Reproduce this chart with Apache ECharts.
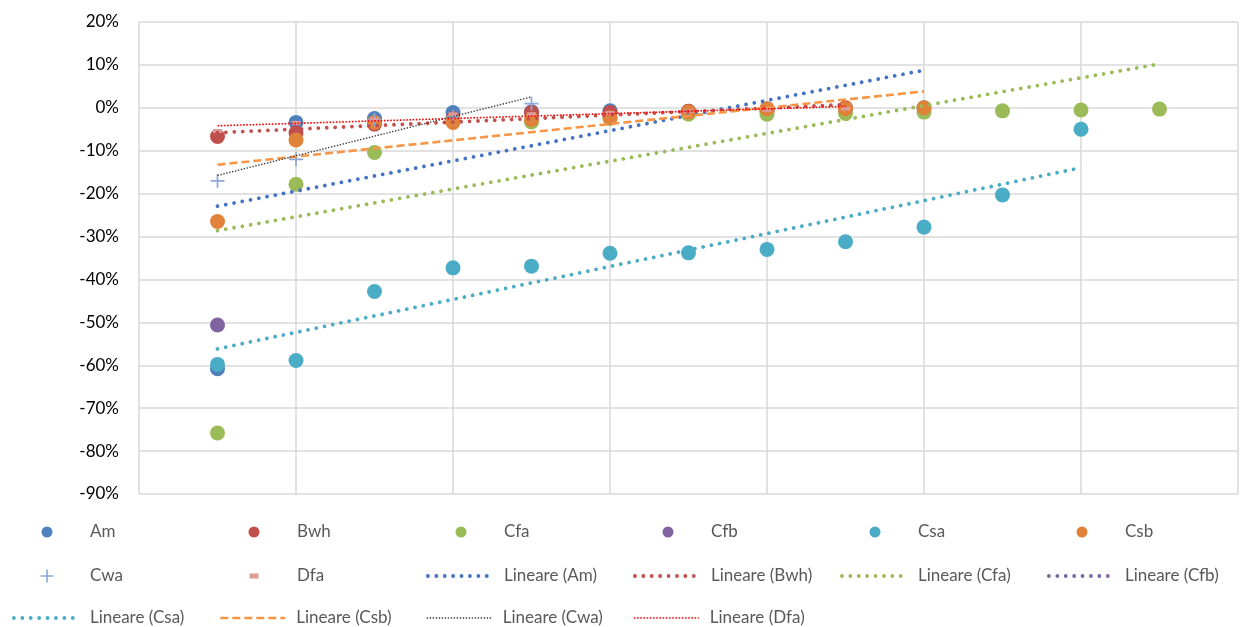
<!DOCTYPE html>
<html><head><meta charset="utf-8">
<script src="https://cdn.jsdelivr.net/npm/echarts@6/dist/echarts.min.js"></script>
<style>html,body{margin:0;padding:0;background:#fff}#c{width:1241px;height:627px}</style>
</head><body><div id="c"></div>
<script>
// ---- data (x = position 1..13, values are fractions) ----
const xs = [1, 2, 3, 4, 5, 6, 7, 8, 9, 10, 11, 12, 13];
const amVals  = [-0.608, -0.034, -0.025, -0.011, -0.009, -0.007, -0.008, -0.003, -0.003, 0.000];
const bwhVals = [-0.067, -0.058, -0.038, -0.025, -0.011, -0.011, -0.008, -0.008, 0.000];
const cfaVals = [-0.758, -0.178, -0.104, -0.030, -0.033, -0.025, -0.015, -0.015, -0.013, -0.010, -0.007, -0.005, -0.003];
const cfbVals = [-0.506];
const csaVals = [-0.598, -0.589, -0.428, -0.373, -0.369, -0.339, -0.338, -0.330, -0.312, -0.278, -0.203, -0.050];
const csbVals = [-0.265, -0.075, -0.034, -0.034, -0.027, -0.023, -0.010, -0.002, -0.002, 0.000];
const cwaVals = [-0.170, -0.120, -0.028, -0.022, 0.010];
const dfaVals = [-0.054, -0.035, -0.027, -0.015, -0.015, -0.012, -0.008, -0.005, -0.002];
const seriesNames = ['Am', 'Bwh', 'Cfa', 'Cfb', 'Csa', 'Csb', 'Cwa', 'Dfa'];
const trendPrefix = 'Lineare';
const yMin = -0.9, yMax = 0.2, yStep = 0.1;
const xMin = 0, xMax = 14, xStep = 2;

// ---- styling ----
const valsByName = {Am: amVals, Bwh: bwhVals, Cfa: cfaVals, Cfb: cfbVals, Csa: csaVals, Csb: csbVals, Cwa: cwaVals, Dfa: dfaVals};
const markerColor = {Am:'#4F81BD', Bwh:'#C0504D', Cfa:'#9BBB59', Cfb:'#8064A2', Csa:'#4BACC6', Csb:'#E0823A', Cwa:'#8EA9D8', Dfa:'#DC9A98'};
const plusPath = 'path://M7,0H9V7H16V9H9V16H7V9H0V7H7Z';
const markerSymbol = {Cwa: plusPath, Dfa: 'rect'};
const markerSize = {Cwa: 14, Dfa: [9, 4]};
const dots = (c) => ({color: c, width: 3.8, type: [0.01, 8.4], cap: 'round'});
const trendStyle = {
  Am: dots('#4472C4'), Bwh: dots('#C0504D'), Cfa: dots('#9BBB59'), Cfb: dots('#8064A2'), Csa: dots('#4BACC6'),
  Csb: {color: '#F79646', width: 2.6, type: [8, 4], cap: 'butt'},
  Cwa: {color: '#404040', width: 1.4, type: [1.4, 1.6], cap: 'butt'},
  Dfa: {color: '#FF0000', width: 1.6, type: [1.6, 1.6], cap: 'butt'}
};

function toPts(vals) { return vals.map((v, i) => [xs[i], v]); }
function trend(vals) {
  const p = toPts(vals); const n = p.length;
  if (n < 2) return [];
  let sx = 0, sy = 0; p.forEach(d => { sx += d[0]; sy += d[1]; });
  const mx = sx / n, my = sy / n;
  let sxy = 0, sxx = 0; p.forEach(d => { sxy += (d[0]-mx)*(d[1]-my); sxx += (d[0]-mx)*(d[0]-mx); });
  const b = sxy / sxx, a = my - b * mx;
  const x0 = p[0][0], x1 = p[n-1][0];
  return [[x0, a + b*x0], [x1, a + b*x1]];
}

const series = [];
seriesNames.forEach((nm, i) => {
  series.push({
    name: nm, type: 'scatter', data: toPts(valsByName[nm]),
    symbol: markerSymbol[nm] || 'circle', symbolSize: markerSize[nm] || 15,
    itemStyle: {color: markerColor[nm], opacity: 1}, z: 2 + i * 0.01, silent: true
  });
});
seriesNames.forEach((nm, i) => {
  series.push({
    name: trendPrefix + ' (' + nm + ')', type: 'line', data: trend(valsByName[nm]),
    symbol: 'none', showSymbol: false, lineStyle: trendStyle[nm],
    itemStyle: {color: trendStyle[nm].color}, z: 4, silent: true, animation: false
  });
});

// ---- legend: one component per item on a 6-column grid ----
const legendNames = seriesNames.concat(seriesNames.map(nm => trendPrefix + ' (' + nm + ')'));
const colStart = [10, 217, 424, 631, 838, 1045];
const rowCenter = [532, 576, 618];
const legends = legendNames.map((nm, i) => {
  const row = Math.floor(i / 6), col = i % 6;
  const isMarker = i < seriesNames.length;
  let w = 65, h = 14, left = colStart[col] + 2, pad = 6;
  if (isMarker) {
    const base = seriesNames[i];
    if (base === 'Dfa') { w = 9; h = 5; } else if (base === 'Cwa') { w = 13; h = 13; } else { w = 11; h = 11; }
    left = colStart[col] + 37 - w / 2;
    pad = colStart[col] + 80 - (left + w + 5);
  }
  const lg = {
    data: [nm], left: left, top: rowCenter[row] - 11, orient: 'horizontal',
    itemWidth: w, itemHeight: h, padding: 0, selectedMode: false,
    textStyle: {fontFamily: 'Lato', fontSize: 17, color: '#595959', padding: [0, 0, 0, pad], height: 22, lineHeight: 22}
  };
  if (!isMarker) {
    const ts = trendStyle[seriesNames[i - seriesNames.length]];
    lg.itemStyle = {opacity: 0, borderWidth: 0};
    lg.lineStyle = {color: ts.color, width: ts.width, type: ts.type, cap: ts.cap};
  }
  return lg;
});

const chart = echarts.init(document.getElementById('c'), null, {renderer: 'canvas'});
chart.setOption({
  animation: false,
  backgroundColor: '#fff',
  grid: {left: 139, right: 3, top: 22, bottom: 133, containLabel: false},
  xAxis: {
    type: 'value', min: xMin, max: xMax, interval: xStep,
    axisLabel: {show: false}, axisTick: {show: false}, axisLine: {show: false},
    splitLine: {show: true, lineStyle: {color: '#D9D9D9', width: 1.5}}
  },
  yAxis: {
    type: 'value', min: yMin, max: yMax, interval: yStep,
    axisLine: {show: false}, axisTick: {show: false},
    axisLabel: {fontFamily: 'Lato', fontSize: 17, color: '#000', margin: 20,
      formatter: v => Math.round(v * 100) + '%'},
    splitLine: {show: true, lineStyle: {color: '#D9D9D9', width: 1.5}}
  },
  legend: legends,
  series: series
});
</script></body></html>
